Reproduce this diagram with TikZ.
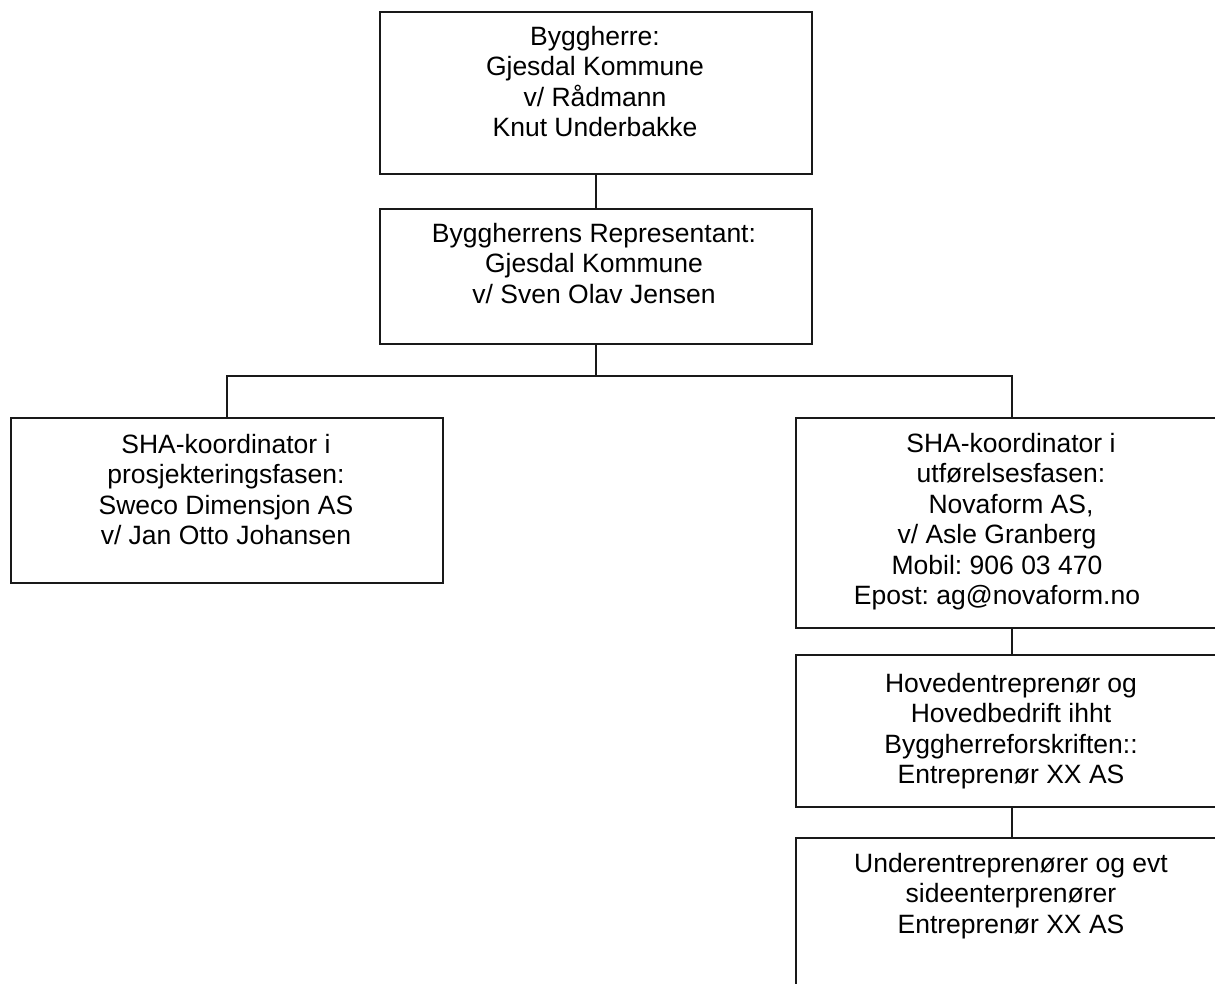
\documentclass[tikz,border=0pt]{standalone}
\usepackage{fontspec}
\setmainfont{Liberation Sans}
\frenchspacing
\newcommand\fstr{\rule{0pt}{20pt}}
\newcommand\trail[1]{\mbox{#1\kern28pt}}
\begin{document}
\begin{tikzpicture}[x=1pt,y=-1pt,
  box/.style={draw=black!90,line width=1.8pt,anchor=north west,inner sep=0pt},
  txt/.style={anchor=north,inner sep=0pt,align=center,font=\fontsize{26.5}{30.5}\selectfont\frenchspacing},
  conn/.style={draw=black!90,line width=1.8pt}]
\clip (0,0) rectangle (1215,984);
\useasboundingbox (0,0) rectangle (1215,984);
% boxes
\node[box,minimum width=432pt,minimum height=162pt] (b1) at (379,11) {};
\node[box,minimum width=432pt,minimum height=135pt] (b2) at (379,208) {};
\node[box,minimum width=432pt,minimum height=165pt] (l1) at (10,417) {};
\node[box,minimum width=432pt,minimum height=210pt] (r1) at (795,417) {};
\node[box,minimum width=432pt,minimum height=152pt] (r2) at (795,654) {};
\node[box,minimum width=432pt,minimum height=180pt] (r3) at (795,837) {};
% texts
\node[txt] (t1) at (595,25) {\fstr Byggherre:\\Gjesdal Kommune\\v/ Rådmann\\Knut Underbakke};
\node[txt] (t2) at (594,222) {\fstr Byggherrens Representant:\\Gjesdal Kommune\\v/ Sven Olav Jensen};
\node[txt] (t3) at (226,433) {\fstr SHA-koordinator i\\prosjekteringsfasen:\\Sweco Dimensjon AS\\v/ Jan Otto Johansen};
\node[txt] (t4) at (1011,432) {\fstr SHA-koordinator i\\utførelsesfasen:\\Novaform AS,\\\trail{v/ Asle Granberg}\\\trail{Mobil: 906 03 470}\\\trail{Epost: ag@novaform.no}};
\node[txt] (t5) at (1011,672) {\fstr Hovedentreprenør og\\Hovedbedrift ihht\\Byggherreforskriften::\\Entreprenør XX AS};
\node[txt] (t6) at (1011,852) {\fstr Underentreprenører og evt\\sideenterprenører\\Entreprenør XX AS};
% connectors
\coordinate (j) at (b2.south |- 0,376);
\draw[conn] (b1.south) -- (b2.north);
\draw[conn] (b2.south) -- (j);
\draw[conn] (j) -| (l1.north);
\draw[conn] (j) -| (r1.north);
\draw[conn] (r1.south) -- (r2.north);
\draw[conn] (r2.south) -- (r3.north);
\end{tikzpicture}
\end{document}
